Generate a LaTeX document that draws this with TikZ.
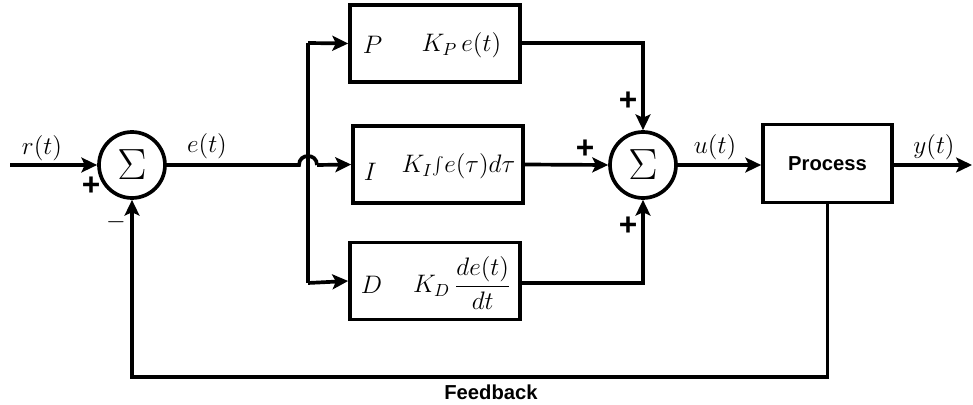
\documentclass[tikz,border=0pt]{standalone}
\usepackage{fontspec}
\setsansfont{Liberation Sans}
\usetikzlibrary{arrows.meta}
\begin{document}
\begin{tikzpicture}[x=0.02cm,y=-0.02cm,line width=2.1pt,
  arr/.style={-{Stealth[length=9pt,width=8.5pt,inset=2pt]}},
  sumnode/.style={circle,draw,line width=2.1pt,minimum size=1.32cm,inner sep=0pt,font=\fontsize{26}{26}\selectfont},
  blk/.style={rectangle,draw,line width=2.1pt,minimum width=3.4cm,minimum height=1.54cm,inner sep=0pt},
  lbl/.style={inner sep=0pt,font=\fontsize{14}{16}\selectfont},
  blab/.style={inner sep=0pt,font=\fontsize{14.5}{16}\selectfont},
  sgn/.style={inner sep=0pt,font=\fontsize{18}{18}\selectfont\sffamily\bfseries},
  sftext/.style={inner sep=0pt,font=\fontsize{11.5}{13}\selectfont\sffamily\bfseries}]
\useasboundingbox (0,0) rectangle (973,405);

% nodes
\node[sumnode] (s1) at (132,165) {$\Sigma$};
\node[sumnode] (s2) at (643,165) {$\Sigma$};
\node[blk] (P) at (435,43.5) {};
\node[blk] (I) at (438,164.5) {};
\node[blk] (D) at (435,281) {};
\node[rectangle,draw,line width=2.1pt,minimum width=2.58cm,minimum height=1.56cm,inner sep=0pt,sftext] (proc) at (827.5,163.5) {Process};

\coordinate (in) at (10,165);
\coordinate (out) at (972,165);
\coordinate (b1) at (308,43);
\coordinate (b2) at (308,283);
\coordinate (h1) at (299,165);
\coordinate (h2) at (317,165);
\coordinate (fb1) at (827.5,377);
\coordinate (fb2) at (132,377);

% labels in blocks
\node[blab,anchor=west] (Pl) at (361,45) {$P$};
\node[blab,anchor=west] (Il) at (362,172) {$I$};
\node[blab,anchor=west] (Dl) at (359,285) {$D$};
\node[blab,anchor=east] (Pt) at (503,45) {$K_P\,e(t)$};
\node[blab,anchor=east] (It) at (517,166) {$K_I\!\int\! e(\tau)d\tau$};
\node[blab,anchor=east] (Dt) at (513,283) {$K_D\,{\displaystyle\frac{de(t)}{dt}}$};

% signal labels
\node[lbl] (rt) at (42,148) {$r(t)$};
\node[lbl] (et) at (207,146) {$e(t)$};
\node[lbl] (ut) at (715,147) {$u(t)$};
\node[lbl] (yt) at (934,147) {$y(t)$};
\node[sgn] (p1) at (91,186) {+};
\node[lbl] (m1) at (116,222) {$-$};
\node[sgn] (p2) at (628,101) {+};
\node[sgn] (p3) at (585,149) {+};
\node[sgn] (p4) at (628,226) {+};
\node[sftext] (fbl) at (491,392) {Feedback};

% connectors
\draw[arr] (in) -- (s1.west);
\draw (s1.east) -- (h1) .. controls (299,153) and (317,153) .. (h2);
\draw[arr] (h2) -- (I.west);
\draw (b1) -- (b2);
\draw[arr] (b1) -- (P.west);
\draw[arr] (b2) -- (D.west);
\draw[arr] (P.east |- b1) -| (s2.north);
\draw[arr] (I.east) -- (s2.west);
\draw[arr] (D.east |- b2) -| (s2.south);
\draw[arr] (s2.east) -- (proc.west |- s2.east);
\draw[arr] (proc.east |- out) -- (out);
\draw[arr] (proc.south) -- (fb1) -- (fb2) -- (s1.south);
\end{tikzpicture}
\end{document}
